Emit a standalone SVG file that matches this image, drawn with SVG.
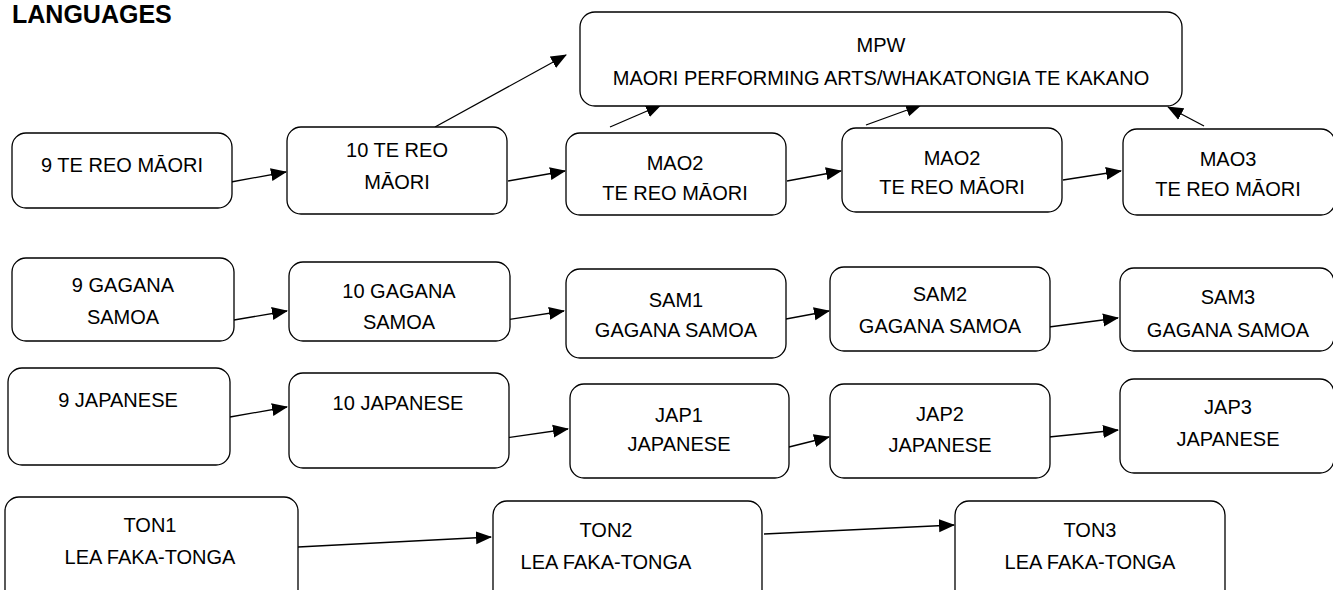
<svg xmlns="http://www.w3.org/2000/svg" width="1333" height="590" viewBox="0 0 1333 590">
<defs>
<marker id="ah" markerWidth="16" markerHeight="14" refX="15" refY="7" orient="auto" markerUnits="userSpaceOnUse">
<path d="M0,0.5 L16,7 L0,13.5 Z" fill="#000"/>
</marker>
<style>
.box{fill:#fff;stroke:#000;stroke-width:1.3}
.t{font-family:"Liberation Sans",Arial,sans-serif;font-size:20px;fill:#000;text-anchor:middle}
.title{font-family:"Liberation Sans",Arial,sans-serif;font-size:25px;font-weight:bold;fill:#000}
.c{stroke:#000;stroke-width:1.3;fill:none;marker-end:url(#ah)}
</style>
</defs>
<rect width="1333" height="590" fill="#fff"/>
<text class="title" x="12" y="23">LANGUAGES</text>

<g id="connectors">
<line class="c" x1="231" y1="182" x2="286" y2="172"/>
<line class="c" x1="508" y1="181" x2="565" y2="171"/>
<line class="c" x1="787" y1="181" x2="841" y2="171"/>
<line class="c" x1="1063" y1="180" x2="1121" y2="171"/>
<line class="c" x1="435" y1="127" x2="566" y2="55"/>
<line class="c" x1="610" y1="127" x2="661" y2="105"/>
<line class="c" x1="866" y1="125" x2="921" y2="105"/>
<line class="c" x1="1204" y1="126" x2="1168" y2="107"/>
<line class="c" x1="234" y1="320" x2="287" y2="311"/>
<line class="c" x1="506" y1="320" x2="564" y2="311"/>
<line class="c" x1="786" y1="319" x2="829" y2="311"/>
<line class="c" x1="1049" y1="327" x2="1118" y2="318"/>
<line class="c" x1="230" y1="417" x2="287" y2="407"/>
<line class="c" x1="506" y1="438" x2="568" y2="429"/>
<line class="c" x1="789" y1="447" x2="829" y2="437"/>
<line class="c" x1="1049" y1="437" x2="1118" y2="430"/>
<line class="c" x1="298" y1="547" x2="491" y2="537"/>
<line class="c" x1="764" y1="534" x2="954" y2="525"/>
</g>

<g id="mpw"><rect class="box" x="580" y="12" width="602" height="94" rx="15"/>
<text class="t" x="881" y="52">MPW</text><text class="t" x="881" y="85">MAORI PERFORMING ARTS/WHAKATONGIA TE KAKANO</text></g>

<g id="tereo9"><rect class="box" x="12" y="133" width="220" height="75" rx="14"/>
<text class="t" x="122" y="172">9 TE REO MĀORI</text></g>
<g id="tereo10"><rect class="box" x="287" y="127" width="220" height="87" rx="14"/>
<text class="t" x="397" y="157">10 TE REO</text><text class="t" x="397" y="189">MĀORI</text></g>
<g id="mao2a"><rect class="box" x="566" y="133" width="220" height="82" rx="14"/>
<text class="t" x="675" y="170">MAO2</text><text class="t" x="675" y="200">TE REO MĀORI</text></g>
<g id="mao2b"><rect class="box" x="842" y="128" width="220" height="84" rx="14"/>
<text class="t" x="952" y="165">MAO2</text><text class="t" x="952" y="194">TE REO MĀORI</text></g>
<g id="mao3"><rect class="box" x="1123" y="129" width="212" height="86" rx="14"/>
<text class="t" x="1228" y="166">MAO3</text><text class="t" x="1228" y="196">TE REO MĀORI</text></g>

<g id="sam9"><rect class="box" x="12" y="258" width="222" height="83" rx="14"/>
<text class="t" x="123" y="292">9 GAGANA</text><text class="t" x="123" y="324">SAMOA</text></g>
<g id="sam10"><rect class="box" x="289" y="262" width="221" height="79" rx="14"/>
<text class="t" x="399" y="298">10 GAGANA</text><text class="t" x="399" y="329">SAMOA</text></g>
<g id="sam1"><rect class="box" x="566" y="269" width="220" height="89" rx="14"/>
<text class="t" x="676" y="307">SAM1</text><text class="t" x="676" y="337">GAGANA SAMOA</text></g>
<g id="sam2"><rect class="box" x="830" y="267" width="220" height="84" rx="14"/>
<text class="t" x="940" y="301">SAM2</text><text class="t" x="940" y="333">GAGANA SAMOA</text></g>
<g id="sam3"><rect class="box" x="1120" y="268" width="214" height="83" rx="14"/>
<text class="t" x="1228" y="304">SAM3</text><text class="t" x="1228" y="337">GAGANA SAMOA</text></g>

<g id="jap9"><rect class="box" x="8" y="368" width="222" height="97" rx="14"/>
<text class="t" x="118" y="407">9 JAPANESE</text></g>
<g id="jap10"><rect class="box" x="289" y="373" width="220" height="95" rx="14"/>
<text class="t" x="398" y="410">10 JAPANESE</text></g>
<g id="jap1"><rect class="box" x="570" y="384" width="219" height="94" rx="14"/>
<text class="t" x="679" y="422">JAP1</text><text class="t" x="679" y="451">JAPANESE</text></g>
<g id="jap2"><rect class="box" x="830" y="384" width="220" height="94" rx="14"/>
<text class="t" x="940" y="421">JAP2</text><text class="t" x="940" y="452">JAPANESE</text></g>
<g id="jap3"><rect class="box" x="1120" y="379" width="214" height="94" rx="14"/>
<text class="t" x="1228" y="414">JAP3</text><text class="t" x="1228" y="446">JAPANESE</text></g>

<g id="ton1"><rect class="box" x="5" y="497" width="293" height="110" rx="14"/>
<text class="t" x="150" y="532">TON1</text><text class="t" x="150" y="564">LEA FAKA-TONGA</text></g>
<g id="ton2"><rect class="box" x="493" y="501" width="269" height="110" rx="14"/>
<text class="t" x="606" y="537">TON2</text><text class="t" x="606" y="569">LEA FAKA-TONGA</text></g>
<g id="ton3"><rect class="box" x="955" y="501" width="270" height="110" rx="14"/>
<text class="t" x="1090" y="537">TON3</text><text class="t" x="1090" y="569">LEA FAKA-TONGA</text></g>
</svg>
